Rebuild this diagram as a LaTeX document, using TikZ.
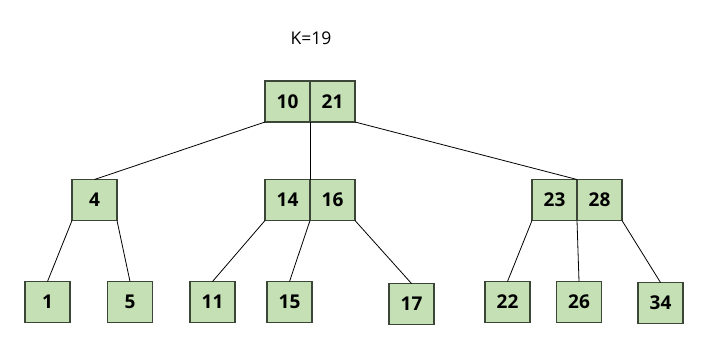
\documentclass[tikz,border=0pt]{standalone}
\usepackage{fontspec}
\setmainfont{Open Sans}
\usetikzlibrary{positioning}
\definecolor{keygreen}{RGB}{197,224,180}
\definecolor{keyline}{RGB}{60,70,55}

\begin{document}
\begin{tikzpicture}[x=1pt,y=-1pt,node distance=0pt]
  \tikzstyle{key}=[draw=keyline,line width=1.1pt,fill=keygreen,inner sep=0pt,outer sep=0pt,
    minimum width=45pt,minimum height=41pt,font=\fontsize{19}{22}\selectfont\bfseries]
  \tikzstyle{link}=[draw=black,line width=0.8pt]
  \useasboundingbox (0,0) rectangle (715,348);
  \node[font=\fontsize{17.5}{20}\selectfont] (title) at (311,38) {K=19};
  % root
  \node[key] (r10) at (287.5,101.5) {10};
  \node[key,right=of r10] (r21) {21};
  % middle level
  \node[key] (n4) at (94.5,200) {4};
  \node[key] (n14) at (287.5,200) {14};
  \node[key,right=of n14] (n16) {16};
  \node[key] (n23) at (554.5,200) {23};
  \node[key,right=of n23] (n28) {28};
  % leaves
  \node[key] (l1) at (47.5,302) {1};
  \node[key] (l5) at (130,302) {5};
  \node[key] (l11) at (212.5,302) {11};
  \node[key] (l15) at (289.5,302) {15};
  \node[key] (l17) at (411.5,304) {17};
  \node[key] (l22) at (507.5,302) {22};
  \node[key] (l26) at (579,302) {26};
  \node[key] (l34) at (660.5,303) {34};
  \draw[link] (r10.south west) -- (n4.north);
  \draw[link] (r10.south east) -- (n14.north east);
  \draw[link] (r21.south east) -- (n23.north east);
  \draw[link] (n4.south west) -- (l1.north);
  \draw[link] (n4.south east) -- (l5.north);
  \draw[link] (n14.south west) -- (l11.north);
  \draw[link] (n14.south east) -- (l15.north);
  \draw[link] (n16.south east) -- (l17.north);
  \draw[link] (n23.south west) -- (l22.north);
  \draw[link] (n23.south east) -- (l26.north);
  \draw[link] (n28.south east) -- (l34.north);
\end{tikzpicture}
\end{document}
